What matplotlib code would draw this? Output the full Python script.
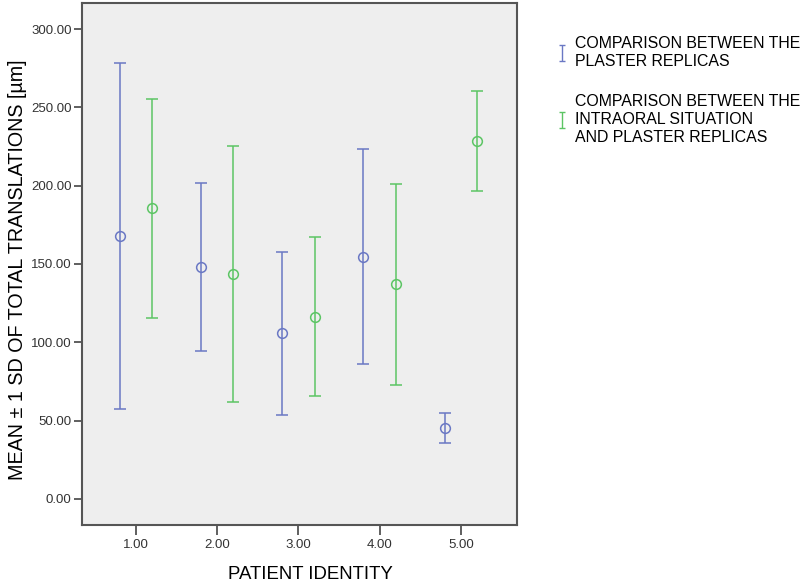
import numpy as np
import matplotlib
matplotlib.use('Agg')
import matplotlib.pyplot as plt

plt.rcParams['font.family'] = ['Liberation Sans', 'DejaVu Sans']

# data
patients = [1, 2, 3, 4, 5]
mean_plaster = [167.9, 148.3, 105.7, 154.7, 45.3]
sd_plaster = [110.4, 53.6, 51.8, 68.7, 9.4]
mean_intraoral = [185.5, 143.6, 116.4, 137.0, 228.3]
sd_intraoral = [69.9, 81.5, 50.7, 64.1, 32.0]
labels = ['COMPARISON BETWEEN THE\nPLASTER REPLICAS',
          'COMPARISON BETWEEN THE\nINTRAORAL SITUATION\nAND PLASTER REPLICAS']
xticks = [1, 2, 3, 4, 5]
yticks = [0, 50, 100, 150, 200, 250, 300]

blue = '#6a78c4'
green = '#5cc564'

fig = plt.figure(figsize=(8.03, 5.86), dpi=100)
ax = fig.add_axes([82/803, 1-525/586, (517-82)/803, (525-3)/586])
ax.set_facecolor('#eeeeee')

x = np.array(patients, dtype=float)
ax.errorbar(x-0.2, mean_plaster, yerr=sd_plaster, fmt='o', mfc='none', mec=blue,
            ecolor=blue, ms=7, mew=1.1, elinewidth=1.1, capsize=4, capthick=1.1)
ax.errorbar(x+0.2, mean_intraoral, yerr=sd_intraoral, fmt='o', mfc='none', mec=green,
            ecolor=green, ms=7, mew=1.1, elinewidth=1.1, capsize=4, capthick=1.1)

ax.set_xlim(0.336, 5.69)
ax.set_ylim(-16.6, 316.6)
ax.set_xticks(xticks)
ax.set_xticklabels(['%.2f' % t for t in xticks])
ax.set_yticks(yticks)
ax.set_yticklabels(['%.2f' % t for t in yticks])
ax.tick_params(direction='out', width=1.2, color='#444444',
               labelsize=9.5, labelcolor='#333333')
ax.tick_params(axis='y', length=6, pad=1.5)
ax.tick_params(axis='x', length=7, pad=3)
for s in ax.spines.values():
    s.set_color('#555555')
    s.set_linewidth(1.5)

ax.set_xlabel('PATIENT IDENTITY', fontsize=13.4, va='top')
ax.xaxis.set_label_coords((310-82)/435, (525-566)/522)
ax.set_ylabel('MEAN \u00b1 1 SD OF TOTAL TRANSLATIONS [\u00b5m]', fontsize=14.2)
ax.yaxis.set_label_coords((27-82)/435, (525-270)/522)

# legend proxies
h1 = ax.errorbar([np.nan], [np.nan], yerr=[1], fmt='none', ecolor=blue, capsize=2, elinewidth=1)
h2 = ax.errorbar([np.nan], [np.nan], yerr=[1], fmt='none', ecolor=green, capsize=2, elinewidth=1)
leg = fig.legend([h1, h2], labels, loc='upper left', bbox_to_anchor=(551/803, 1-30/586),
                 frameon=False, fontsize=11.4, handlelength=0.6, handletextpad=0.5,
                 labelspacing=1.55, borderaxespad=0)
for t in leg.get_texts():
    t.set_linespacing(1.25)

fig.savefig('out.png', dpi=100)
